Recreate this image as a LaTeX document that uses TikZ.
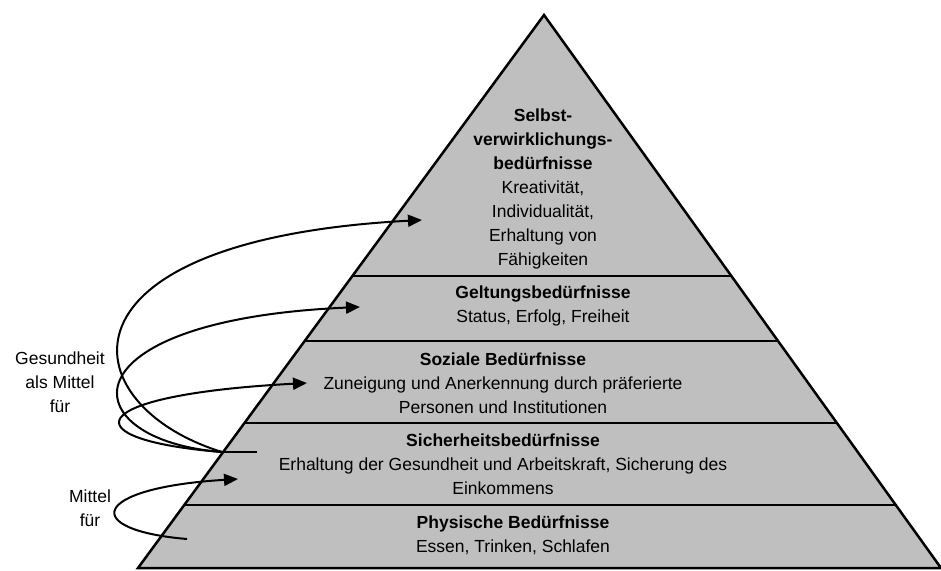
\documentclass[tikz,border=0pt]{standalone}
\usepackage{fontspec}
\setmainfont{Liberation Sans}
\usetikzlibrary{calc,arrows.meta}
\begin{document}
\begin{tikzpicture}[x=1pt,y=-1pt]
    \tikzstyle{layer}=[align=center, inner sep=0pt,
                            font=\fontsize{17.5}{24}\selectfont]
    \tikzstyle{sep}=[line width=2.5pt]
    \tikzstyle{means}=[line width=2pt, -{Triangle[length=14pt,width=12pt]}]
    \useasboundingbox (0,0) rectangle (941,570);
    \coordinate (apex) at (544,15);
    \coordinate (bl) at (138,568);
    \coordinate (br) at (941,568);
    \draw[sep, fill=black!25] (apex) -- (bl) -- (br) -- cycle;
    \foreach \t in {0.472,0.5895,0.7378,0.8861}
        \draw[sep] ($(apex)!\t!(bl)$) -- ($(apex)!\t!(br)$);

    \node[layer] (selbst) at (543,189) {\textbf{Selbst-}\\\textbf{verwirklichungs-}\\\textbf{bedürfnisse}\\Kreativität,\\Individualität,\\Erhaltung von\\Fähigkeiten};
    \node[layer] (geltung) at (543,306) {\textbf{Geltungsbedürfnisse}\\Status, Erfolg, Freiheit};
    \node[layer] (sozial) at (503,383) {\textbf{Soziale Bedürfnisse}\\Zuneigung und Anerkennung durch präferierte\\Personen und Institutionen};
    \node[layer] (sicher) at (503,464) {\textbf{Sicherheitsbedürfnisse}\\Erhaltung der Gesundheit und Arbeitskraft, Sicherung des\\Einkommens};
    \node[layer] (physisch) at (513,535) {\textbf{Physische Bedürfnisse}\\Essen, Trinken, Schlafen};
    \node[layer] (gesund) at (60,382) {Gesundheit\\als Mittel\\für};
    \node[layer] (mittel) at (90,508) {Mittel\\für};

    \coordinate (src) at (257,452);
    \coordinate (stub) at (222,452);
    \coordinate (toselbst) at (422,220);
    \coordinate (togeltung) at (360,307);
    \coordinate (tosozial) at (307,383);
    \coordinate (physstart) at (187,539);
    \coordinate (tosicher) at (238,479);

    \draw[line width=2pt] (src) -- (stub);
    \draw[means] (stub) .. controls (70,405) and (45,240) .. (toselbst);
    \draw[means] (stub) .. controls (70,440) and (60,320) .. (togeltung);
    \draw[means] (stub) .. controls (70,440) and (80,395) .. (tosozial);
    \draw[means] (physstart) .. controls (80,530) and (90,488) .. (tosicher);
\end{tikzpicture}
\end{document}
